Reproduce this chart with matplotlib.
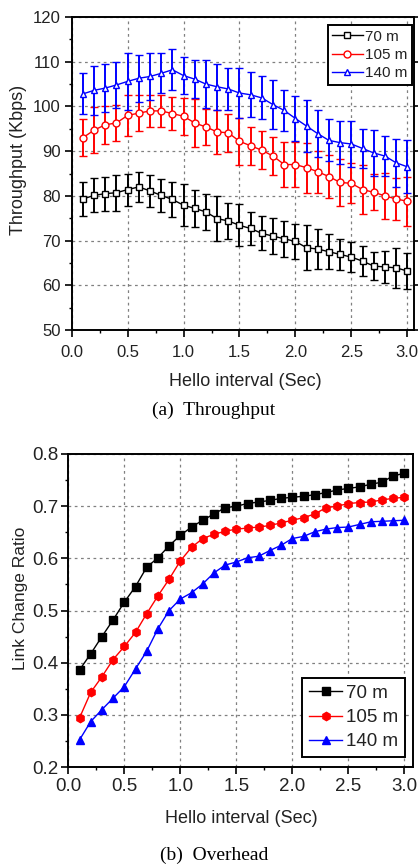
import numpy as np
import matplotlib
matplotlib.use("Agg")
import matplotlib.pyplot as plt
from matplotlib.ticker import MultipleLocator

plt.rcParams['font.family'] = ['Liberation Sans', 'DejaVu Sans']

# ---------------- data ----------------
hello = [round(0.1 * i, 1) for i in range(1, 31)]
labels = ["70 m", "105 m", "140 m"]

thr_70 = [79.3, 80.1, 80.5, 80.7, 81.4, 82.0, 81.1, 80.1, 79.2, 77.9,
          77.2, 76.4, 74.9, 74.4, 73.4, 72.7, 71.6, 71.0, 70.4, 69.8,
          68.4, 68.1, 67.5, 66.9, 66.3, 65.4, 64.3, 64.1, 63.9, 63.2]
err_70 = [3.9, 3.8, 3.8, 4.0, 3.6, 3.3, 3.6, 3.7, 4.0, 4.7,
          4.1, 4.1, 5.1, 4.0, 4.7, 3.7, 3.8, 4.1, 4.0, 4.0,
          5.0, 4.4, 3.9, 3.5, 3.4, 3.4, 3.2, 3.6, 4.5, 4.0]
thr_105 = [93.0, 94.7, 95.9, 96.3, 98.0, 98.5, 99.0, 99.0, 98.4, 97.8,
           96.3, 95.4, 94.3, 94.1, 92.2, 91.2, 90.2, 88.9, 87.0, 87.0,
           86.3, 85.4, 84.3, 83.0, 82.8, 81.4, 80.8, 80.0, 79.3, 78.8]
err_105 = [4.1, 5.2, 4.3, 4.1, 4.6, 4.1, 3.6, 3.6, 3.7, 4.1,
           5.4, 4.1, 5.0, 4.3, 5.3, 4.2, 4.2, 4.3, 5.1, 5.1,
           5.6, 4.7, 4.8, 5.2, 4.5, 5.5, 4.0, 5.2, 4.8, 5.5]
thr_140 = [102.8, 103.6, 104.1, 104.8, 105.6, 106.3, 106.7, 107.4, 108.2, 106.9,
           106.1, 105.0, 104.4, 103.9, 103.0, 102.6, 101.9, 100.4, 99.1, 97.3,
           95.6, 93.9, 92.4, 91.9, 91.6, 90.6, 89.6, 88.9, 87.4, 86.5]
err_140 = [4.6, 5.5, 5.4, 5.1, 6.3, 5.2, 5.2, 4.5, 4.6, 4.2,
           4.3, 5.4, 5.1, 4.6, 5.5, 5.0, 4.8, 5.4, 4.6, 5.1,
           5.9, 5.2, 4.7, 4.8, 5.1, 4.4, 5.2, 4.4, 5.4, 5.9]

lcr_70 = [0.386, 0.417, 0.450, 0.482, 0.516, 0.546, 0.583, 0.601, 0.624, 0.644,
          0.660, 0.673, 0.685, 0.697, 0.700, 0.705, 0.708, 0.711, 0.715, 0.717,
          0.719, 0.722, 0.726, 0.731, 0.734, 0.737, 0.742, 0.746, 0.758, 0.763]
lcr_105 = [0.294, 0.343, 0.373, 0.406, 0.431, 0.458, 0.494, 0.528, 0.560, 0.595,
           0.621, 0.638, 0.646, 0.652, 0.656, 0.658, 0.660, 0.663, 0.668, 0.673,
           0.678, 0.685, 0.697, 0.700, 0.705, 0.707, 0.708, 0.712, 0.715, 0.717]
lcr_140 = [0.252, 0.287, 0.310, 0.332, 0.354, 0.388, 0.422, 0.465, 0.500, 0.522,
           0.534, 0.551, 0.572, 0.587, 0.593, 0.601, 0.604, 0.615, 0.625, 0.638,
           0.642, 0.651, 0.656, 0.659, 0.660, 0.665, 0.670, 0.671, 0.672, 0.673]

colors = ["black", "#ff0000", "#0000ff"]
TXT = "#222222"

fig = plt.figure(figsize=(4.18, 8.66), dpi=100)
W, H = 418.0, 866.0

def style_axes(ax, tick_fs):
    for s in ax.spines.values():
        s.set_linewidth(1.4)
        s.set_color("black")
    ax.grid(True, which="major", color="#808080", linestyle=(0, (2.2, 2.8)), linewidth=0.9)
    ax.set_axisbelow(True)
    ax.tick_params(which="major", direction="out", length=5, width=1.2,
                   labelsize=tick_fs, labelcolor=TXT)
    ax.tick_params(which="minor", direction="out", length=2.5, width=1.0)

# ---------------- top: throughput ----------------
L1, R1, T1, B1 = 71.7, 414.0, 17.0, 330.0
ax1 = fig.add_axes([L1 / W, 1 - B1 / H, (R1 - L1) / W, (B1 - T1) / H])
style_axes(ax1, 12)
series1 = [(thr_70, err_70, "s"), (thr_105, err_105, "o"), (thr_140, err_140, "^")]
handles1 = []
for (vals, errs, mk), c, lab in zip(series1, colors, labels):
    cont = ax1.errorbar(hello, vals, yerr=errs, color=c, marker=mk, markersize=5,
                        markerfacecolor="white", markeredgecolor=c, markeredgewidth=1.0,
                        linewidth=1.0, elinewidth=1.4, capsize=3, capthick=1.4, label=lab)
    handles1.append(cont[0])
ax1.set_xlim(0, 3.06)
ax1.set_ylim(50, 120)
ax1.set_xticks(np.arange(0, 3.01, 0.5))
ax1.set_xticklabels([f"{v:.1f}" for v in np.arange(0, 3.01, 0.5)])
ax1.xaxis.set_minor_locator(MultipleLocator(0.25))
ax1.yaxis.set_major_locator(MultipleLocator(10))
ax1.yaxis.set_minor_locator(MultipleLocator(5))
ax1.tick_params(axis="x", which="major", pad=6)
ax1.tick_params(axis="y", which="major", pad=3)
ax1.tick_params(axis="y", which="major", right=True)
ax1.set_xlabel("Hello interval (Sec)", fontsize=13, color=TXT)
ax1.set_ylabel("Throughput (Kbps)", fontsize=13, color=TXT)
ax1.xaxis.set_label_coords((245 - L1) / (R1 - L1), -(373 - B1) / (B1 - T1))
ax1.yaxis.set_label_coords((27 - L1) / (R1 - L1), (B1 - 160) / (B1 - T1))
leg1 = ax1.legend(handles1, labels, loc="upper right",
                  bbox_to_anchor=(412 / W, 1 - 25 / H), bbox_transform=fig.transFigure,
                  fontsize=11, frameon=True, fancybox=False, edgecolor="black",
                  framealpha=1, borderaxespad=0, handlelength=2.0, handletextpad=0.15,
                  labelspacing=0.28, borderpad=0.3)
leg1.get_frame().set_linewidth(1.4)
for t in leg1.get_texts():
    t.set_color(TXT)

# ---------------- bottom: link change ratio ----------------
L2, R2, T2, B2 = 68.3, 413.3, 454.0, 767.0
ax2 = fig.add_axes([L2 / W, 1 - B2 / H, (R2 - L2) / W, (B2 - T2) / H])
style_axes(ax2, 13.5)
series2 = [(lcr_70, "s"), (lcr_105, "h"), (lcr_140, "^")]
for (vals, mk), c, lab in zip(series2, colors, labels):
    ax2.plot(hello, vals, color=c, marker=mk, markersize=6, markerfacecolor=c,
             markeredgecolor=c, linewidth=1.0, label=lab)
ax2.set_xlim(0, 3.08)
ax2.set_ylim(0.2, 0.8)
ax2.set_xticks(np.arange(0, 3.01, 0.5))
ax2.set_xticklabels([f"{v:.1f}" for v in np.arange(0, 3.01, 0.5)])
ax2.xaxis.set_minor_locator(MultipleLocator(0.25))
ax2.set_yticks(np.arange(0.2, 0.81, 0.1))
ax2.set_yticklabels([f"{v:.1f}" for v in np.arange(0.2, 0.81, 0.1)])
ax2.yaxis.set_minor_locator(MultipleLocator(0.05))
ax2.tick_params(axis="x", which="major", pad=3)
ax2.tick_params(axis="y", which="major", pad=2)
ax2.set_xlabel("Hello interval (Sec)", fontsize=13, color=TXT)
ax2.set_ylabel("Link Change Ratio", fontsize=12.5, color=TXT)
ax2.xaxis.set_label_coords((241 - L2) / (R2 - L2), -(810 - B2) / (B2 - T2))
ax2.yaxis.set_label_coords((28 - L2) / (R2 - L2), (B2 - 598) / (B2 - T2))
leg2 = ax2.legend(loc="lower right", bbox_to_anchor=(405 / W, 1 - 757 / H),
                  bbox_transform=fig.transFigure, fontsize=13.5, frameon=True,
                  fancybox=False, edgecolor="black", framealpha=1, borderaxespad=0,
                  handlelength=1.8, handletextpad=0.2, labelspacing=0.38, borderpad=0.35)
leg2.get_frame().set_linewidth(1.4)
for t in leg2.get_texts():
    t.set_color(TXT)

# ---------------- captions ----------------
fig.text(214 / W, 1 - 410 / H, "(a)  Throughput", family=["Liberation Serif", "DejaVu Serif"],
         fontsize=14, ha="center", va="center", color="black")
fig.text(214 / W, 1 - 855 / H, "(b)  Overhead", family=["Liberation Serif", "DejaVu Serif"],
         fontsize=14, ha="center", va="center", color="black")

fig.savefig("out.png", dpi=100)
